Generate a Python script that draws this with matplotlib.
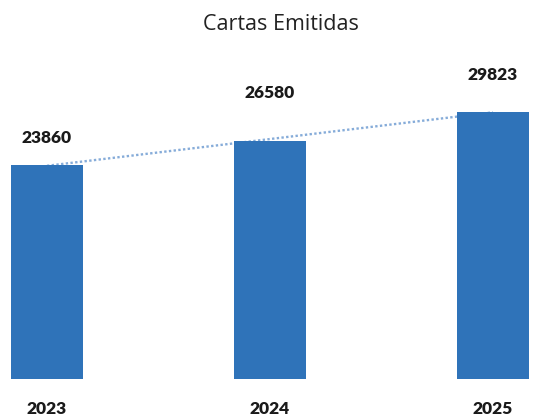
import matplotlib
matplotlib.use("Agg")
import matplotlib.pyplot as plt
import numpy as np

years = ["2023", "2024", "2025"]
values = [23860, 26580, 29823]
title = "Cartas Emitidas"

bar_color = "#2f73b9"
trend_color = "#86acd9"
label_offsets = [27, 48, 37]  # px above bar top (as in reference)

fig = plt.figure(figsize=(5.4, 4.16), dpi=100)
ax = fig.add_axes([0, 37/416, 1, 319/416])

x = np.arange(len(years))
ax.bar(x, values, width=0.32, color=bar_color, zorder=2)

# linear trend line
coef = np.polyfit(x, values, 1)
ax.plot(x, np.polyval(coef, x), linestyle=(0, (1, 1.0)), color=trend_color,
        linewidth=1.7, zorder=1)

ax.set_xlim(-47/223, (540-47)/223)
ax.set_ylim(0, 319/0.008969)

for xi, v, off in zip(x, values, label_offsets):
    ax.annotate(str(v), (xi, v), xytext=(0, off), textcoords="offset pixels",
                ha="center", va="center", fontsize=12.5, fontweight="heavy",
                family="Lato", color="#1a1a1a")

ax.set_xticks(x)
ax.set_xticklabels(years, fontsize=12.5, fontweight="heavy", family="Lato",
                   color="#1a1a1a")
ax.tick_params(axis="x", length=0, pad=16)
ax.set_yticks([])
for s in ax.spines.values():
    s.set_visible(False)

fig.text(281/540, 1 - 24/416, title, ha="center", va="center",
         fontsize=15.5, family="Open Sans", color="#222222")

fig.savefig("out.png", dpi=100)
